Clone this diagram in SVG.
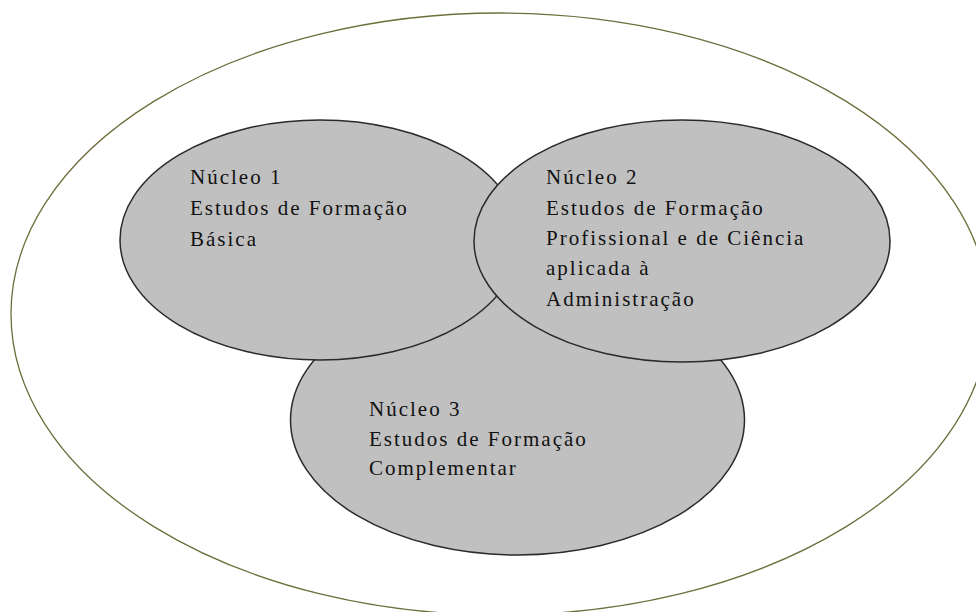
<svg xmlns="http://www.w3.org/2000/svg" width="976" height="612" viewBox="0 0 976 612">
<style>
.nucleo{fill:#c0c0c0;stroke:#2a2a2a;stroke-width:1.5}
.lbl{font-size:21px;letter-spacing:2px;fill:#111}
</style>
<rect width="976" height="612" fill="#ffffff"/>
<g id="outer">
<ellipse cx="500" cy="314" rx="489" ry="301" fill="#ffffff" stroke="#6e6e3c" stroke-width="1.3"/>
</g>
<g id="connectors"></g>
<g id="nucleo3">
<ellipse class="nucleo" cx="517.5" cy="420" rx="227" ry="135"/>
<text class="lbl" font-family="'Liberation Serif', 'Times New Roman', serif"><tspan x="369" y="416">Núcleo 3</tspan><tspan x="369" y="446">Estudos de Formação</tspan><tspan x="369" y="475">Complementar</tspan></text>
</g>
<g id="nucleo1">
<ellipse class="nucleo" cx="320" cy="240" rx="200" ry="120"/>
<text class="lbl" font-family="'Liberation Serif', 'Times New Roman', serif"><tspan x="190" y="184">Núcleo 1</tspan><tspan x="190" y="215">Estudos de Formação</tspan><tspan x="190" y="246">Básica</tspan></text>
</g>
<g id="nucleo2">
<ellipse class="nucleo" cx="682" cy="241" rx="208" ry="121"/>
<text class="lbl" font-family="'Liberation Serif', 'Times New Roman', serif"><tspan x="546" y="184">Núcleo 2</tspan><tspan x="546" y="214.5">Estudos de Formação</tspan><tspan x="546" y="245">Profissional e de Ciência</tspan><tspan x="546" y="275">aplicada à</tspan><tspan x="546" y="305.5">Administração</tspan></text>
</g>
</svg>
